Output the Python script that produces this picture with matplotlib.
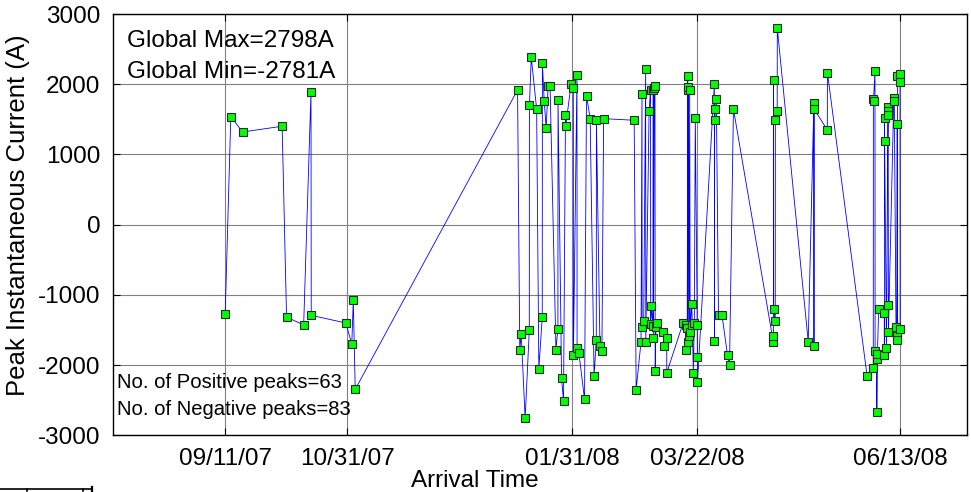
import numpy as np
import pandas as pd
import matplotlib
matplotlib.use('Agg')
import matplotlib.pyplot as plt
import matplotlib.dates as mdates
from matplotlib.lines import Line2D

plt.rcParams['font.family'] = ['Liberation Sans', 'DejaVu Sans']
plt.rcParams['axes.unicode_minus'] = False

# arrival time in days after the first record, and peak current in A
start_date = '2007-09-11'
arrival_days = [
    0.0, 2.3, 7.1, 23.3, 25.1, 32.1, 35.1, 35.2, 49.3, 51.8, 52.4, 53.2,
    119.6, 120.5, 121.1, 122.7, 124.4, 124.45, 125.2, 127.4, 128.3, 129.7,
    129.75, 130.5, 131.3, 132.1, 132.9, 135.3, 136.1, 136.15, 137.6, 138.4,
    139.2, 139.3, 141.5, 142.4, 142.45, 143.9, 143.95, 144.7, 147.0, 147.8,
    149.3, 150.9, 151.8, 151.85, 153.3, 154.1, 154.8,
    167.3, 168.1, 170.1, 170.5, 170.55, 171.2, 172.0, 172.05, 173.4, 174.0,
    174.05, 174.3, 175.0, 175.1, 175.15, 175.5, 175.8, 175.9, 176.2, 176.6,
    179.0, 179.7, 180.6, 180.65, 187.3, 188.5, 188.55, 189.0, 189.2, 189.25,
    189.3, 189.5, 189.8, 190.0, 190.2, 190.8, 191.1, 191.5, 191.9, 192.3,
    193.1, 193.15, 193.2,
    200.1, 200.15, 200.2, 200.25, 200.9, 201.8, 203.2, 205.5, 206.3, 207.9,
    224.2, 224.25, 224.3, 224.35, 225.0, 225.05, 225.8, 225.85,
    238.5, 240.8, 240.85, 240.9, 246.3, 246.35,
    262.6, 265.1, 265.15, 265.2, 265.8, 265.85, 266.5, 266.55, 266.8, 267.3,
    269.6, 269.65, 269.7, 269.75, 270.5, 271.1, 271.15, 271.2, 271.25, 271.3,
    273.5, 273.7, 274.4, 274.8, 274.9, 274.95, 275.0, 276.0, 276.05, 276.1,
]
peak_current = [
    -1270, 1538, 1320, 1402, -1315, -1429, 1890, -1291, -1400, -1695, -1073, -2345,
    1919, -1781, -1561, -2758, -1504, 1701, 2385, 1648, -2056, -1319,
    2303, 1758, 1377, 1976, 1976, -1781, -1481, 1781, -2188, -2516,
    1567, 1402, 2004, 1952, -1860, 2137, -1752, -1832, -2487, 1838,
    1510, -2160, -1642, 1487, -1724, -1803, 1510,
    1487, -2350, -1671, 1866, -1453, -1372, 2222, -1671, 1620, 1919,
    -1419, -1154, -1450, 1919, -1614, 1950, 1976, -2080, -1453, -1400,
    -1533, -1724, -1614, -2108, -1400, -1424, -1781, -1470, 2114, -1671,
    1919, 1960, -1590, 1919, -1530, -1125, -1424, -2108, -1400, 1516,
    -1424, -1885, -2241,
    2004, -1650, 1648, 1487, 1786, -1286, -1286, -1860, -1998, 1648,
    -1667, -1581, 2057, -1208, -1372, 1491, 1624, 2798,
    -1667, 1738, -1724, 1648, 1349, 2165,
    -2160, -2048, 1786, 1766, 2194, -1806, -1917, -2672, -1840, -1208,
    -1262, -1863, 1516, 1188, -1756, 1681, 1620, 1563, -1151, -1533,
    1805, 1762, -1453, -1580, 1434, -1642, 2118, 2147, 2028, -1481,
]

tick_dates = ['2007-09-11', '2007-10-31', '2008-01-31', '2008-03-22', '2008-06-13']
y_ticks = [-3000, -2000, -1000, 0, 1000, 2000, 3000]

times = pd.Timestamp(start_date) + pd.to_timedelta(arrival_days, unit='D')
peaks = np.array(peak_current)
global_min = -2781
n_pos = 63
n_neg = 83

fig = plt.figure(figsize=(9.71, 4.92), dpi=100)
ax = fig.add_axes([0.1161, 0.1152, 0.8795, 0.8563])

ax.plot(times, peaks, '-', color='#0000ff', lw=0.6, zorder=3)
ax.plot(times, peaks, 's', ms=5.5, mfc='#00ff00', mec='#2a2a2a', mew=0.8, ls='none', zorder=4)

ax.set_xlim(pd.Timestamp('2007-07-27'), pd.Timestamp('2008-07-10 08:00'))
ax.set_ylim(-3000, 3000)
ax.set_xticks(pd.to_datetime(tick_dates))
ax.xaxis.set_major_formatter(mdates.DateFormatter('%m/%d/%y'))
ax.set_yticks(y_ticks)

ax.grid(True, color='#808080', lw=0.8, ls='-')
ax.set_axisbelow(True)
ax.tick_params(direction='in', length=5, width=0.8, top=True, right=True,
               labelsize=17.5, pad=9)
for s in ax.spines.values():
    s.set_linewidth(1.0)

ax.set_xlabel('Arrival Time', fontsize=17.5)
ax.xaxis.set_label_coords(0.424, -0.083)
ax.set_ylabel('Peak Instantaneous Current (A)', fontsize=18.5)
ax.yaxis.set_label_coords(-0.097, 0.523)

ax.text(0.017, 0.935, 'Global Max=%dA' % peaks.max(), transform=ax.transAxes,
        fontsize=17.5, va='center', ha='left')
ax.text(0.017, 0.862, 'Global Min=%dA' % global_min, transform=ax.transAxes,
        fontsize=17.5, va='center', ha='left')
ax.text(0.005, 0.125, 'No. of Positive peaks=%d' % n_pos, transform=ax.transAxes,
        fontsize=14.6, va='center', ha='left')
ax.text(0.005, 0.061, 'No. of Negative peaks=%d' % n_neg, transform=ax.transAxes,
        fontsize=14.6, va='center', ha='left')

# edge of the next panel peeking in at the bottom
fig.add_artist(Line2D([0, 92 / 971], [1 - 489 / 492] * 2, transform=fig.transFigure,
                      color='black', lw=1.2))
for px in (27, 83):
    fig.add_artist(Line2D([px / 971] * 2, [1 - 489 / 492, 1 - 491 / 492],
                          transform=fig.transFigure, color='black', lw=1.2))
fig.add_artist(Line2D([92 / 971] * 2, [1 - 487 / 492, 0], transform=fig.transFigure,
                      color='black', lw=1.6))

fig.savefig('out.png', dpi=100)
